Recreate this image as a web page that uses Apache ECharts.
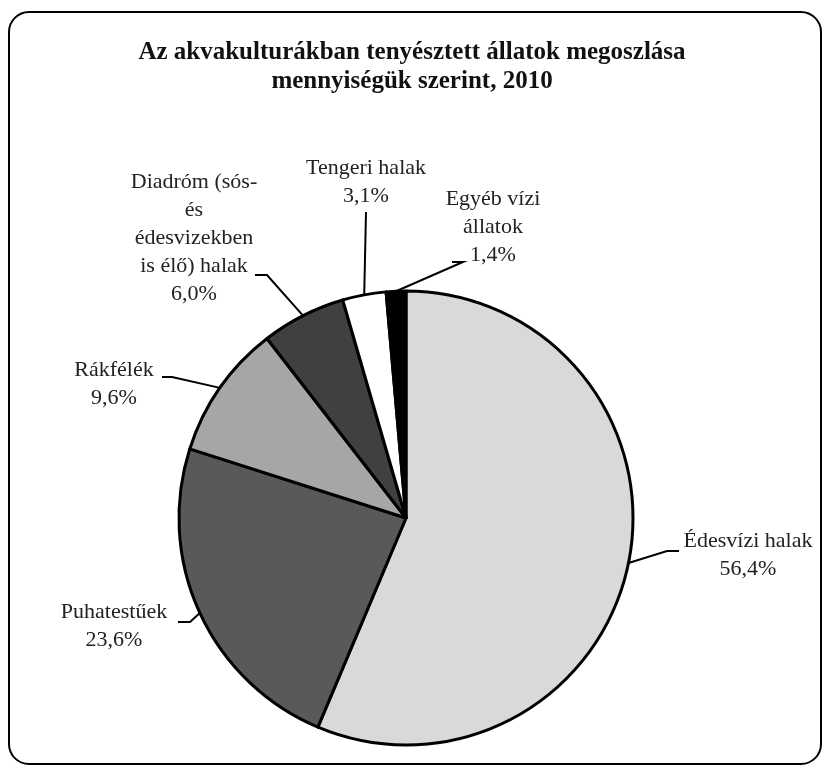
<!DOCTYPE html>
<html>
<head>
<meta charset="utf-8">
<script src="https://cdn.jsdelivr.net/npm/echarts@6/dist/echarts.min.js"></script>
<style>
  html, body { margin: 0; padding: 0; background: #fff; }
  #chart { width: 824px; height: 767px; }
</style>
</head>
<body>
<div id="chart"></div>
<script>
const categories = [
  'Édesvízi halak',
  'Puhatestűek',
  'Rákfélék',
  'Diadróm (sós-\nés\nédesvizekben\nis élő) halak',
  'Tengeri halak',
  'Egyéb vízi\nállatok'
]
const shares = [56.4, 23.6, 9.6, 6.0, 3.1, 1.4]
const colors = ['#d9d9d9', '#595959', '#a6a6a6', '#404040', '#ffffff', '#000000']

// label placement: [label x, label y, elbow x, elbow y, end x]
const labelSpots = [
  [748, 555, 667, 551, 679],
  [114, 626, 190, 622, 178],
  [114, 384, 172, 377, 162],
  [194, 238, 267, 275, 255],
  [366, 182, 366, 212, 366],
  [493, 227, 463, 262, 452]
]

const chart = echarts.init(document.getElementById('chart'))

chart.setOption({
  animation: false,
  title: {
    text: 'Az akvakulturákban tenyésztett állatok megoszlása\nmennyiségük szerint, 2010',
    left: 'center',
    top: 33,
    textStyle: {
      fontFamily: 'Liberation Serif',
      fontWeight: 'bold',
      fontSize: 25,
      lineHeight: 29,
      color: '#111'
    }
  },
  graphic: [{
    type: 'rect',
    shape: { x: 9, y: 12, width: 812, height: 752, r: 20 },
    style: { fill: 'none', stroke: '#000', lineWidth: 2 },
    silent: true
  }],
  series: [{
    type: 'pie',
    center: [406, 518],
    radius: 227,
    startAngle: 90,
    clockwise: true,
    data: categories.map((name, i) => ({
      name,
      value: shares[i],
      itemStyle: { color: colors[i] }
    })),
    itemStyle: { borderColor: '#000', borderWidth: 3 },
    label: {
      show: true,
      position: 'outside',
      formatter: (p) => p.name + '\n' + p.value.toFixed(1).replace('.', ',') + '%',
      fontFamily: 'Liberation Serif',
      fontSize: 22,
      lineHeight: 28,
      color: '#222',
      align: 'center'
    },
    labelLine: {
      show: true,
      smooth: false,
      length: 15,
      length2: 10,
      lineStyle: { color: '#000', width: 2 }
    },
    labelLayout: (params) => {
      const s = labelSpots[params.dataIndex]
      const start = params.labelLinePoints ? params.labelLinePoints[0] : [s[2], s[3]]
      return {
        x: s[0],
        y: s[1],
        align: 'center',
        verticalAlign: 'middle',
        labelLinePoints: [start, [s[2], s[3]], [s[4], s[3]]]
      }
    },
    emphasis: { disabled: true }
  }]
})

window.onresize = () => {
  chart.resize()
}
</script>
</body>
</html>
